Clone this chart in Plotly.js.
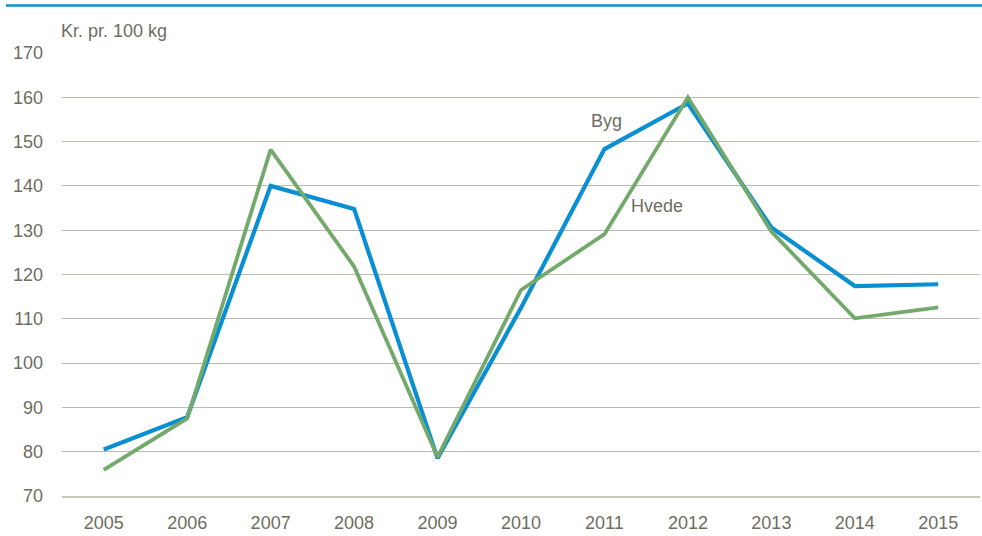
<!DOCTYPE html>
<html>
<head>
<meta charset="utf-8">
<script src="https://cdn.plot.ly/plotly-3.0.1.min.js"></script>
<style>
  html, body { margin: 0; padding: 0; background: #fff; }
  #chart { width: 982px; height: 536px; }
</style>
</head>
<body>
<div id="chart"></div>
<script>
const years = ["2005","2006","2007","2008","2009","2010","2011","2012","2013","2014","2015"];
const byg   = [80.5, 87.8, 140.0, 134.8, 78.5, 112.5, 148.3, 158.6, 130.6, 117.4, 117.8];
const hvede = [75.9, 87.5, 148.2, 121.8, 78.8, 116.5, 129.1, 160.0, 129.7, 110.1, 112.6];
const yTicks = [70, 80, 90, 100, 110, 120, 130, 140, 150, 160, 170];
const unitLabel = "Kr. pr. 100 kg";
const seriesNames = ["Byg", "Hvede"];

const W = 982, H = 536;
const m = {l: 62, r: 2, t: 53, b: 40};
const pw = W - m.l - m.r, ph = H - m.t - m.b;
const textColor = "#6e6d60";
const font = "Liberation Sans, Arial, sans-serif";
const fs = 18;

// Byg drawn first, Hvede on top
const traces = [
  {x: years, y: byg, name: seriesNames[0], type: "scatter", mode: "lines",
   line: {color: "#0a8fd3", width: 4.2}, hoverinfo: "x+y"},
  {x: years, y: hvede, name: seriesNames[1], type: "scatter", mode: "lines",
   line: {color: "#74a96c", width: 3.8}, hoverinfo: "x+y"}
];

const layout = {
  width: W, height: H,
  margin: m,
  paper_bgcolor: "#fff", plot_bgcolor: "#fff",
  showlegend: false,
  font: {family: font, size: fs, color: textColor},
  xaxis: {
    type: "category", range: [-0.5, 10.5],
    showgrid: false, zeroline: false,
    showline: true, linecolor: "#c9c7bd", linewidth: 2,
    ticks: "", ticklabelstandoff: 9,
    tickfont: {family: font, size: fs, color: textColor},
    fixedrange: true
  },
  yaxis: {
    range: [70, 170], tickvals: yTicks, ticktext: yTicks.map(String),
    showgrid: true, gridcolor: "#bdbaae", gridwidth: 1,
    zeroline: false, showline: false, ticks: "",
    ticklabelstandoff: 18,
    tickfont: {family: font, size: fs, color: textColor},
    fixedrange: true
  },
  shapes: [
    {type: "line", xref: "paper", yref: "paper",
     x0: (6 - m.l) / pw, x1: (982 - m.l) / pw,
     y0: 1 + (m.t - 5.5) / ph, y1: 1 + (m.t - 5.5) / ph,
     line: {color: "#0a8fd3", width: 2.5}}
  ],
  annotations: [
    {text: unitLabel, xref: "paper", yref: "paper",
     x: (59 - m.l) / pw, xanchor: "left",
     y: 1 + (m.t - 31) / ph, yanchor: "middle",
     showarrow: false, font: {family: font, size: fs, color: textColor}},
    {text: seriesNames[0], xref: "x", yref: "y", x: 6.02, y: 154.7,
     xanchor: "center", yanchor: "middle", showarrow: false,
     font: {family: font, size: fs, color: textColor}},
    {text: seriesNames[1], xref: "x", yref: "y", x: 6.63, y: 135.5,
     xanchor: "center", yanchor: "middle", showarrow: false,
     font: {family: font, size: fs, color: textColor}}
  ]
};

Plotly.newPlot("chart", traces, layout, {displayModeBar: false, staticPlot: true});
</script>
</body>
</html>
